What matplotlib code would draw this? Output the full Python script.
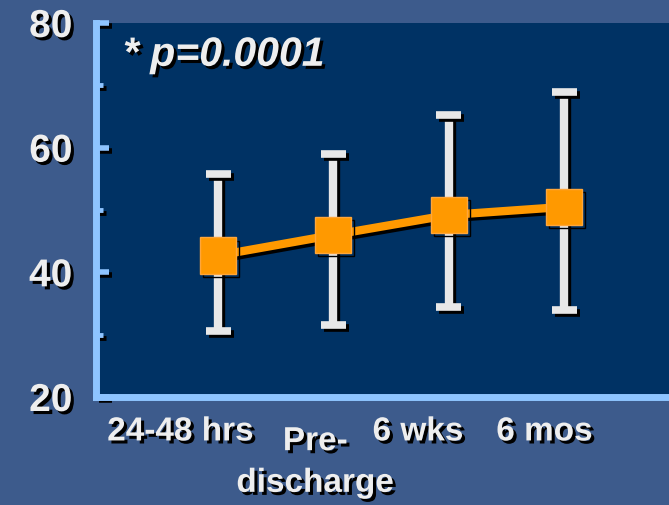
import matplotlib
matplotlib.use("Agg")
import matplotlib.pyplot as plt
import matplotlib.patheffects as pe
from matplotlib.transforms import offset_copy

# Data
categories = ["24-48 hrs", "Pre-\ndischarge", "6 wks", "6 mos"]
means = [42.7, 46.0, 49.2, 50.5]
upper = [55.8, 59.0, 65.3, 69.0]
lower = [30.6, 31.6, 34.5, 34.0]
y_major = [20, 40, 60, 80]
y_minor = [30, 50, 70]
note = "* p=0.0001"

BG = "#3d5b8c"
PANEL = "#003264"
SPINE = "#8ec4ff"
TEXT = "#eeeeee"
ORANGE = "#ff9900"

plt.rcParams["font.family"] = ["Liberation Sans", "DejaVu Sans"]
plt.rcParams["font.weight"] = "bold"

shadow = [pe.withSimplePatchShadow(offset=(2.2, -2.2), shadow_rgbFace="black", alpha=1.0)]
line_shadow = [pe.SimpleLineShadow(offset=(2.2, -2.2), shadow_color="black", alpha=1.0), pe.Normal()]

fig = plt.figure(figsize=(6.69, 5.05), dpi=100, facecolor=BG)
ax = fig.add_axes([96 / 669, 1 - 397 / 505, 1 - 96 / 669, (397 - 23) / 505])
ax.set_facecolor(PANEL)

x = list(range(len(categories)))
yerr = [[m - lo for m, lo in zip(means, lower)], [hi - m for m, hi in zip(means, upper)]]

eb = ax.errorbar(x, means, yerr=yerr, fmt="none", ecolor="#e8e8e8", elinewidth=6,
                 capsize=9, capthick=5.5, zorder=2)
for art in eb.lines[1]:
    art.set_path_effects(line_shadow)
for art in eb.lines[2]:
    art.set_path_effects(line_shadow)

ax.plot(x, means, color=ORANGE, lw=6, zorder=3, path_effects=line_shadow)
ax.plot(x, means, ls="none", marker="s", markersize=26, markerfacecolor=ORANGE,
        markeredgecolor="#ffa63a", markeredgewidth=1, zorder=4, path_effects=line_shadow)

ax.set_xlim(-1.058, 3.91)
ax.set_ylim(20, 80)

for side in ["top", "right"]:
    ax.spines[side].set_visible(False)
for side in ["left", "bottom"]:
    ax.spines[side].set_color(SPINE)
    ax.spines[side].set_linewidth(5)
    ax.spines[side].set_path_effects(shadow)

ax.set_yticks(y_major)
ax.set_yticks(y_minor, minor=True)
ax.tick_params(axis="y", which="major", direction="in", length=9, width=4, color=SPINE,
               labelsize=28, labelcolor=TEXT, pad=17)
ax.tick_params(axis="y", which="minor", direction="in", length=5, width=3.5, color=SPINE)
for t in ax.yaxis.get_major_ticks() + ax.yaxis.get_minor_ticks():
    t.tick1line.set_path_effects(line_shadow)
for lab in ax.get_yticklabels():
    lab.set_fontweight("bold")
    lab.set_path_effects(shadow)

ax.set_xticks([])
# category labels sit slightly left of their points on the slide;
# each line is drawn on its own so the wrapped label keeps its own box
shifts = [(-27, 0), (-13, -7), (-22, 0), (-14, 0)]
line_step = 30  # points between wrapped lines
for xi, lab, (dx, dy) in zip(x, categories, shifts):
    for j, part in enumerate(lab.split("\n")):
        tr = offset_copy(ax.get_xaxis_transform(), fig=fig, x=dx, y=dy - j * line_step,
                         units="points")
        ax.text(xi, -0.052, part, transform=tr, ha="center", va="top", fontsize=24,
                fontweight="bold", color=TEXT, path_effects=shadow, clip_on=False)

ax.text(0.047, 0.915, note, transform=ax.transAxes, ha="left", va="center", fontsize=29.5,
        fontweight="bold", fontstyle="italic", color=TEXT, path_effects=shadow)

fig.savefig("out.png", dpi=100, facecolor=BG)
